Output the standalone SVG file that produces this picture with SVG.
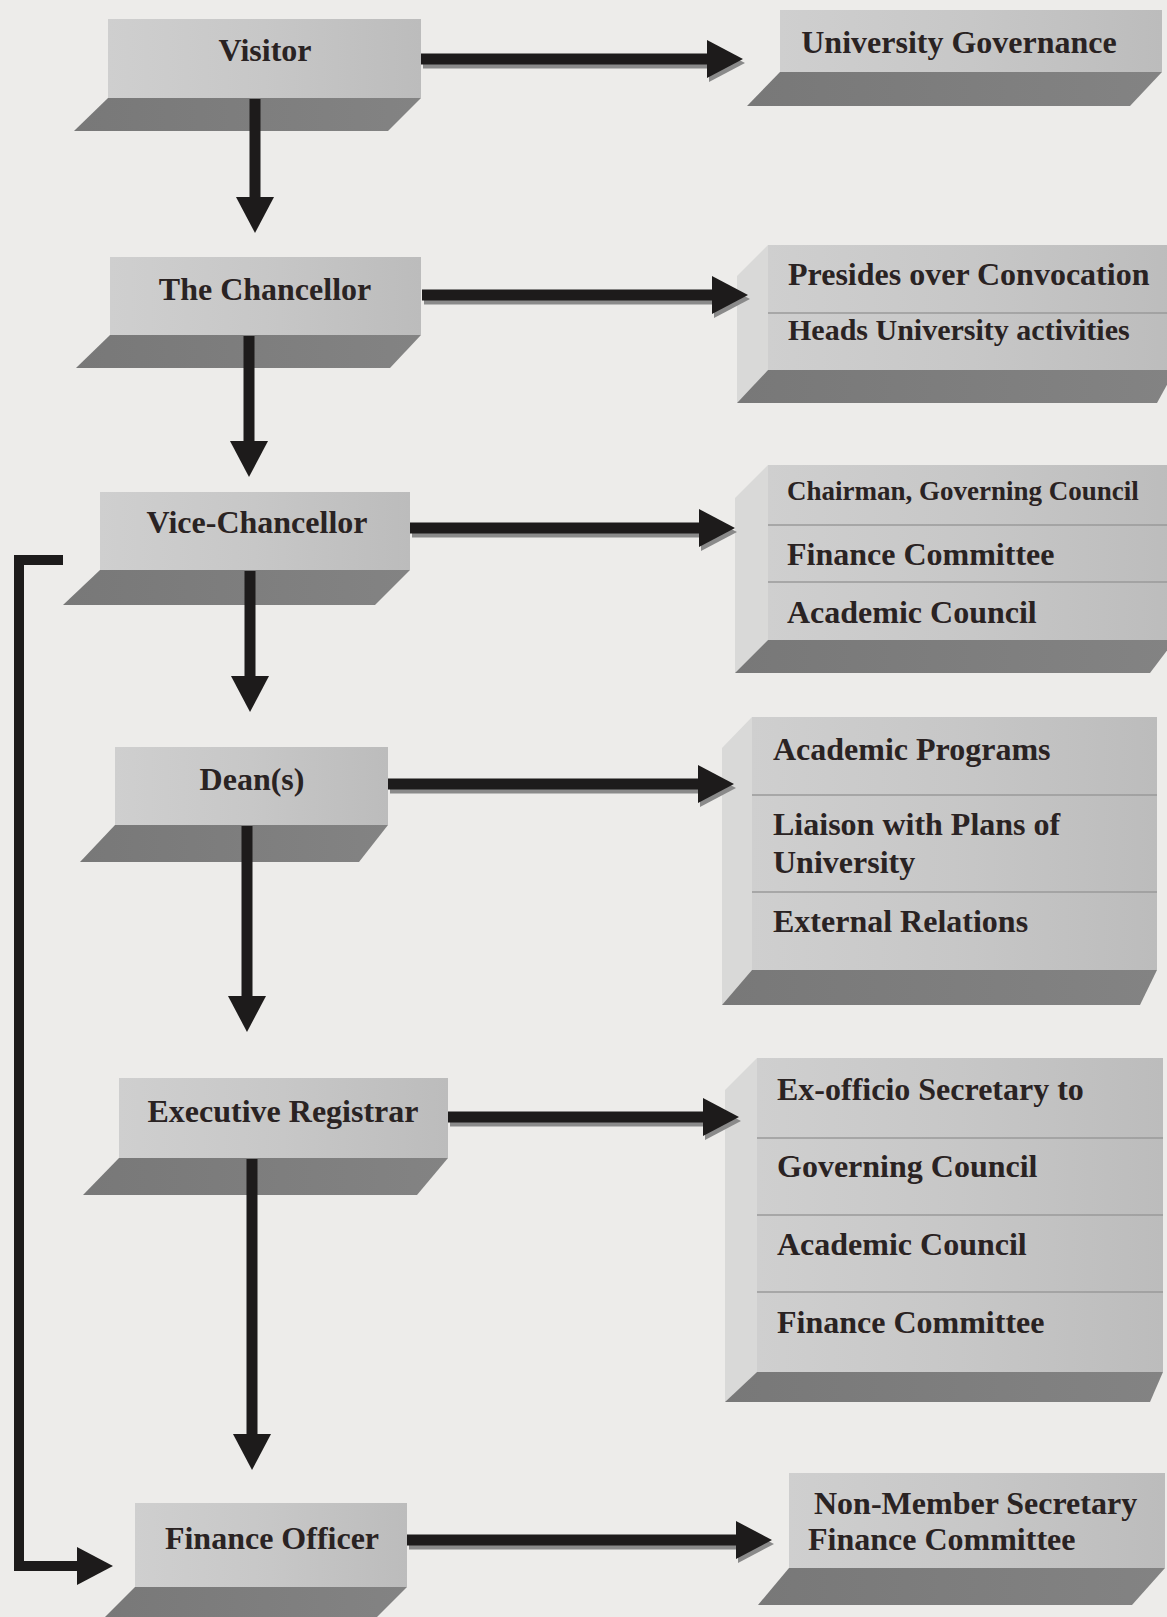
<svg xmlns="http://www.w3.org/2000/svg" width="1167" height="1617" viewBox="0 0 1167 1617">
  <style>
    .face { fill: url(#faceGrad); }
    .shelf { fill: url(#shelfGrad); }
    .side { fill: #d9d9d8; }
    .lbl { font-family: "Liberation Serif", "Times New Roman", serif; font-weight: bold; font-size: 32px; fill: #2a2323; }
    .lbl.s30 { font-size: 30px; }
    .lbl.s27 { font-size: 27px; }
    .mid { text-anchor: middle; }
    .div { stroke: #9a9a9a; stroke-width: 1.5; }
    .shaft { stroke: #1d1b1b; stroke-width: 11; fill: none; }
    .shadow { stroke: #8a8a8a; stroke-width: 11; fill: none; }
    .link { stroke: #1d1b1b; stroke-width: 10; fill: none; stroke-linejoin: miter; }
  </style>
  <defs>
    <linearGradient id="faceGrad" x1="0" y1="0" x2="1" y2="0">
      <stop offset="0" stop-color="#cfcfcf"/>
      <stop offset="0.5" stop-color="#c7c7c7"/>
      <stop offset="1" stop-color="#bcbcbc"/>
    </linearGradient>
    <linearGradient id="shelfGrad" x1="0" y1="0" x2="1" y2="0">
      <stop offset="0" stop-color="#787878"/>
      <stop offset="1" stop-color="#838383"/>
    </linearGradient>
    <marker id="head" viewBox="0 0 36 38" markerUnits="userSpaceOnUse" markerWidth="36" markerHeight="38" refX="2" refY="19" orient="auto">
      <path d="M0,0 L36,19 L0,38 Z" fill="#1d1b1b"/>
    </marker>
    <marker id="headShadow" viewBox="0 0 36 38" markerUnits="userSpaceOnUse" markerWidth="36" markerHeight="38" refX="2" refY="19" orient="auto">
      <path d="M0,0 L36,19 L0,38 Z" fill="#8a8a8a"/>
    </marker>
  </defs>

  <!-- page -->
  <rect width="1167" height="1617" fill="#edecea"/>

  <!-- left column: offices -->
  <g id="visitor">
    <polygon class="shelf" points="108,98 421,98 388,131 74,131"/>
    <rect class="face" x="108" y="19" width="313" height="79"/>
    <text class="lbl mid" x="265" y="61">Visitor</text>
  </g>
  <g id="chancellor">
    <polygon class="shelf" points="110,335 421,335 390,368 76,368"/>
    <rect class="face" x="110" y="257" width="311" height="78"/>
    <text class="lbl mid" x="265" y="300">The Chancellor</text>
  </g>
  <g id="vice-chancellor">
    <polygon class="shelf" points="100,570 410,570 375,605 63,605"/>
    <rect class="face" x="100" y="492" width="310" height="78"/>
    <text class="lbl mid" x="257" y="533">Vice-Chancellor</text>
  </g>
  <g id="deans">
    <polygon class="shelf" points="115,825 388,825 359,862 80,862"/>
    <rect class="face" x="115" y="747" width="273" height="78"/>
    <text class="lbl mid" x="252" y="790">Dean(s)</text>
  </g>
  <g id="executive-registrar">
    <polygon class="shelf" points="119,1158 448,1158 417,1195 83,1195"/>
    <rect class="face" x="119" y="1078" width="329" height="80"/>
    <text class="lbl mid" x="283" y="1122">Executive Registrar</text>
  </g>
  <g id="finance-officer">
    <polygon class="shelf" points="135,1587 407,1587 369,1625 97,1625"/>
    <rect class="face" x="135" y="1503" width="272" height="84"/>
    <text class="lbl mid" x="272" y="1549">Finance Officer</text>
  </g>

  <!-- right column: duties -->
  <g id="university-governance">
    <polygon class="shelf" points="780,72 1162,72 1130,106 747,106"/>
    <rect class="face" x="780" y="10" width="382" height="62"/>
    <text class="lbl mid" x="959" y="53">University Governance</text>
  </g>
  <g id="chancellor-duties">
    <polygon class="side" points="768,245 768,370 737,403 737,276"/>
    <polygon class="shelf" points="768,370 1175,370 1157,403 737,403"/>
    <rect class="face" x="768" y="245" width="410" height="125"/>
    <line class="div" x1="768" y1="313" x2="1167" y2="313"/>
    <text class="lbl" x="788" y="285">Presides over Convocation</text>
    <text class="lbl s30" x="788" y="340">Heads University activities</text>
  </g>
  <g id="vice-chancellor-duties">
    <polygon class="side" points="768,465 768,640 735,673 735,498"/>
    <polygon class="shelf" points="768,640 1175,640 1150,673 735,673"/>
    <rect class="face" x="768" y="465" width="410" height="175"/>
    <line class="div" x1="768" y1="525" x2="1167" y2="525"/>
    <line class="div" x1="768" y1="582" x2="1167" y2="582"/>
    <text class="lbl s27" x="787" y="500">Chairman, Governing Council</text>
    <text class="lbl" x="787" y="565">Finance Committee</text>
    <text class="lbl" x="787" y="623">Academic Council</text>
  </g>
  <g id="dean-duties">
    <polygon class="side" points="752,717 752,970 722,1005 722,748"/>
    <polygon class="shelf" points="752,970 1157,970 1140,1005 722,1005"/>
    <rect class="face" x="752" y="717" width="405" height="253"/>
    <line class="div" x1="752" y1="795" x2="1157" y2="795"/>
    <line class="div" x1="752" y1="892" x2="1157" y2="892"/>
    <text class="lbl" x="773" y="760">Academic Programs</text>
    <text class="lbl" x="773" y="835">Liaison with Plans of</text>
    <text class="lbl" x="773" y="873">University</text>
    <text class="lbl" x="773" y="932">External Relations</text>
  </g>
  <g id="registrar-duties">
    <polygon class="side" points="757,1058 757,1372 725,1402 725,1090"/>
    <polygon class="shelf" points="757,1372 1163,1372 1150,1402 725,1402"/>
    <rect class="face" x="757" y="1058" width="406" height="314"/>
    <line class="div" x1="757" y1="1138" x2="1163" y2="1138"/>
    <line class="div" x1="757" y1="1215" x2="1163" y2="1215"/>
    <line class="div" x1="757" y1="1292" x2="1163" y2="1292"/>
    <text class="lbl" x="777" y="1100">Ex-officio Secretary to</text>
    <text class="lbl" x="777" y="1177">Governing Council</text>
    <text class="lbl" x="777" y="1255">Academic Council</text>
    <text class="lbl" x="777" y="1333">Finance Committee</text>
  </g>
  <g id="finance-officer-duties">
    <polygon class="shelf" points="789,1568 1165,1568 1132,1605 758,1605"/>
    <rect class="face" x="789" y="1473" width="376" height="95"/>
    <text class="lbl" x="814" y="1514">Non-Member Secretary</text>
    <text class="lbl" x="808" y="1550">Finance Committee</text>
  </g>

  <!-- connectors -->
  <g id="connectors">
    <!-- lateral arrows with a soft drop edge -->
    <path class="shadow" d="M423,63 H711" marker-end="url(#headShadow)"/>
    <path class="shaft" d="M421,59 H709" marker-end="url(#head)"/>
    <path class="shadow" d="M424,299 H716" marker-end="url(#headShadow)"/>
    <path class="shaft" d="M422,295 H714" marker-end="url(#head)"/>
    <path class="shadow" d="M412,532 H703" marker-end="url(#headShadow)"/>
    <path class="shaft" d="M410,528 H701" marker-end="url(#head)"/>
    <path class="shadow" d="M390,788 H702" marker-end="url(#headShadow)"/>
    <path class="shaft" d="M388,784 H700" marker-end="url(#head)"/>
    <path class="shadow" d="M450,1121 H707" marker-end="url(#headShadow)"/>
    <path class="shaft" d="M448,1117 H705" marker-end="url(#head)"/>
    <path class="shadow" d="M409,1544 H740" marker-end="url(#headShadow)"/>
    <path class="shaft" d="M407,1540 H738" marker-end="url(#head)"/>

    <!-- chain of command -->
    <path class="shaft" d="M255,99 V199" marker-end="url(#head)"/>
    <path class="shaft" d="M249,336 V443" marker-end="url(#head)"/>
    <path class="shaft" d="M250,571 V678" marker-end="url(#head)"/>
    <path class="shaft" d="M247,826 V998" marker-end="url(#head)"/>
    <path class="shaft" d="M252,1159 V1436" marker-end="url(#head)"/>

    <!-- Vice-Chancellor to Finance Officer -->
    <path class="link" d="M63,560 H19 V1566 H79" marker-end="url(#head)"/>
  </g>
</svg>
